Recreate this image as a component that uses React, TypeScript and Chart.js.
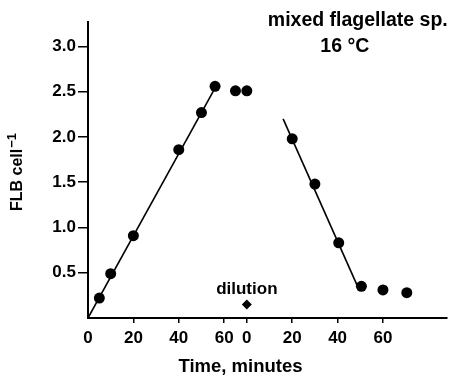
import React, { useEffect, useRef } from "react";
import { Chart, registerables } from "chart.js";
Chart.register(...registerables);

// minutes before dilution (real time) and FLB per cell
const BEFORE_TIMES = [5, 10, 20, 40, 50, 56, 65, 70];
const BEFORE_FLB = [0.22, 0.49, 0.91, 1.86, 2.27, 2.56, 2.51, 2.51];
// minutes after dilution and FLB per cell
const AFTER_TIMES = [20, 30, 40.5, 50.5, 60, 70.5];
const AFTER_FLB = [1.98, 1.48, 0.83, 0.35, 0.31, 0.28];
// regression lines (end points)
const FIT_BEFORE_TIMES = [0, 55.3];
const FIT_BEFORE_FLB = [0, 2.51];
const FIT_AFTER_TIMES = [16, 49.7];
const FIT_AFTER_FLB = [2.2, 0.3];
// the dilution happens at minute 70 of the continuous time axis
const DILUTION_AT = 70;
const DILUTION_MARK = 0.15;
const DILUTION_LABEL_AT = 0.32;
// axis ticks
const X_TICK_VALUES = [0, 20, 40, 60, 70, 90, 110, 130];
const X_TICK_LABELS = ["0", "20", "40", "60", "0", "20", "40", "60"];
const Y_TICK_VALUES = [0.5, 1, 1.5, 2, 2.5, 3];
const Y_TICK_LABELS = ["0.5", "1.0", "1.5", "2.0", "2.5", "3.0"];
const X_MAX = 158;
const Y_MAX = 3.27;
const TITLE_LINES = ["mixed flagellate sp.", "16 °C"];
const X_TITLE = "Time, minutes";
const Y_TITLE_MAIN = "FLB cell";
const Y_TITLE_SUP = "−1";

const FONT = '"Liberation Sans", Arial, Helvetica, sans-serif';

const textPlugin = {
  id: "texts",
  afterDraw(chart: any) {
    const { ctx, scales, chartArea } = chart;
    const x = scales.x;
    const y = scales.y;
    ctx.save();
    ctx.fillStyle = "#000";
    ctx.textAlign = "center";
    ctx.textBaseline = "middle";
    // title
    ctx.font = `bold 19.5px ${FONT}`;
    ctx.fillText(TITLE_LINES[0], x.getPixelForValue(118.9), y.getPixelForValue(3.29));
    ctx.fillText(TITLE_LINES[1], x.getPixelForValue(113.2), y.getPixelForValue(3.0));
    // dilution label
    ctx.font = `bold 17px ${FONT}`;
    ctx.fillText("dilution", x.getPixelForValue(DILUTION_AT), y.getPixelForValue(DILUTION_LABEL_AT));
    // x title
    ctx.font = `bold 18.5px ${FONT}`;
    ctx.fillText(X_TITLE, x.getPixelForValue(67.2), chartArea.bottom + 49);
    // y title
    const mid = (chartArea.top + chartArea.bottom) / 2 + 2;
    ctx.translate(18, mid);
    ctx.rotate(-Math.PI / 2);
    ctx.font = `bold 16px ${FONT}`;
    const w1 = ctx.measureText(Y_TITLE_MAIN).width;
    ctx.font = `bold 13px ${FONT}`;
    const w2 = ctx.measureText(Y_TITLE_SUP).width;
    const start = -(w1 + w2 + 1) / 2;
    ctx.textAlign = "left";
    ctx.font = `bold 16px ${FONT}`;
    ctx.fillText(Y_TITLE_MAIN, start, 0);
    ctx.font = `bold 13px ${FONT}`;
    ctx.fillText(Y_TITLE_SUP, start + w1 + 1, -6);
    ctx.restore();
  },
};

export default function App() {
  const ref = useRef<HTMLCanvasElement | null>(null);
  useEffect(() => {
    if (!ref.current) return;
    const pts = (xs: number[], ys: number[], off = 0) => xs.map((v, i) => ({ x: v + off, y: ys[i] }));
    const tickFont = { family: FONT, size: 17, weight: "bold" as const };
    const chart = new Chart(ref.current, {
      type: "scatter",
      data: {
        datasets: [
          {
            data: pts(FIT_BEFORE_TIMES, FIT_BEFORE_FLB),
            showLine: true,
            borderColor: "#000",
            borderWidth: 1.6,
            pointRadius: 0,
          },
          {
            data: pts(FIT_AFTER_TIMES, FIT_AFTER_FLB, DILUTION_AT),
            showLine: true,
            borderColor: "#000",
            borderWidth: 1.6,
            pointRadius: 0,
          },
          {
            data: pts(BEFORE_TIMES, BEFORE_FLB),
            pointRadius: 5.5,
            backgroundColor: "#000",
            borderColor: "#000",
            borderWidth: 0,
          },
          {
            data: pts(AFTER_TIMES, AFTER_FLB, DILUTION_AT),
            pointRadius: 5.5,
            backgroundColor: "#000",
            borderColor: "#000",
            borderWidth: 0,
          },
          {
            data: [{ x: DILUTION_AT, y: DILUTION_MARK }],
            pointStyle: "rectRot",
            pointRadius: 5,
            backgroundColor: "#000",
            borderColor: "#000",
            borderWidth: 0,
          },
        ],
      },
      options: {
        animation: false,
        responsive: false,
        maintainAspectRatio: false,
        layout: { padding: { top: 22, right: 0, left: 0, bottom: 0 } },
        plugins: { legend: { display: false }, tooltip: { enabled: false }, title: { display: false } },
        scales: {
          x: {
            type: "linear",
            min: 0,
            max: X_MAX,
            afterBuildTicks: (s: any) => {
              s.ticks = X_TICK_VALUES.map((v) => ({ value: v }));
            },
            afterFit: (s: any) => {
              s.height = 57;
            },
            ticks: {
              callback: (v: any) => X_TICK_LABELS[X_TICK_VALUES.indexOf(Number(v))] ?? "",
              font: tickFont,
              color: "#000",
              padding: 5,
              maxRotation: 0,
              autoSkip: false,
            },
            grid: {
              drawOnChartArea: false,
              color: "#000",
              lineWidth: 1.5,
              tickLength: 5,
              tickColor: (c: any) => (c.tick && c.tick.value === 0 ? "rgba(0,0,0,0)" : "#000"),
            },
            border: { color: "#000", width: 2 },
          },
          y: {
            type: "linear",
            min: 0,
            max: Y_MAX,
            afterBuildTicks: (s: any) => {
              s.ticks = Y_TICK_VALUES.map((v) => ({ value: v }));
            },
            afterFit: (s: any) => {
              s.width = 88;
            },
            ticks: {
              callback: (v: any) => Y_TICK_LABELS[Y_TICK_VALUES.indexOf(Number(v))] ?? "",
              font: tickFont,
              color: "#000",
              padding: 2,
              autoSkip: false,
            },
            grid: {
              drawOnChartArea: false,
              color: "#000",
              lineWidth: 1.5,
              tickLength: 10,
            },
            border: { color: "#000", width: 2 },
          },
        },
      },
      plugins: [textPlugin],
    });
    return () => chart.destroy();
  }, []);
  return (
    <div style={{ position: "fixed", left: 0, top: 0, width: 452, height: 375, background: "#fff" }}>
      <canvas ref={ref} width={452} height={375} style={{ width: 452, height: 375 }} />
    </div>
  );
}
